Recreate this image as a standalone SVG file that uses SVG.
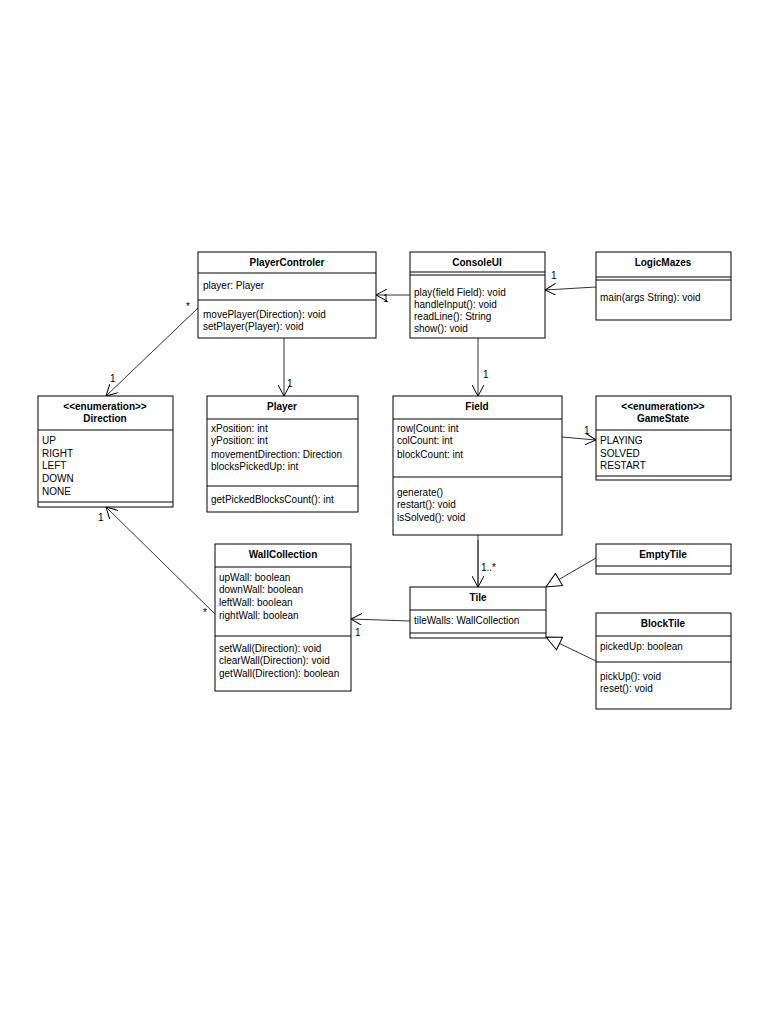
<svg xmlns="http://www.w3.org/2000/svg" width="768" height="1024" viewBox="0 0 768 1024">
<defs>
<style>
text{font-family:"Liberation Sans",Arial,sans-serif;font-size:10px;fill:#000}
.t{font-weight:bold;text-anchor:middle}
.b{fill:#fff;stroke:#000;stroke-width:1}
.l{stroke:#000;stroke-width:1;fill:none}
.c{stroke:#333;stroke-width:1;fill:none}
</style>
<marker id="o" markerWidth="12" markerHeight="12" refX="11" refY="6" orient="auto" markerUnits="userSpaceOnUse"><path d="M0,0 L11,6 L0,12" fill="none" stroke="#000"/></marker>
<marker id="g" markerWidth="18" markerHeight="18" refX="16" refY="8" orient="auto" markerUnits="userSpaceOnUse"><path d="M1,1 L16,8 L1,15 Z" fill="#fff" stroke="#000"/></marker>
<marker id="d" markerWidth="16" markerHeight="10" refX="1" refY="5" orient="auto" markerUnits="userSpaceOnUse"><path d="M1,5 L8,1 L15,5 L8,9 Z" fill="#000" stroke="#000"/></marker>
</defs>
<rect width="768" height="1024" fill="#fff"/>
<g id="connectors">
<line class="c" x1="410" y1="295" x2="376" y2="295" marker-end="url(#o)"/><text x="383" y="302">1</text>
<line class="c" x1="596" y1="287" x2="545" y2="290" marker-end="url(#o)"/><text x="551" y="279">1</text>
<line class="c" x1="198" y1="308" x2="106" y2="396" marker-end="url(#o)"/><text x="186" y="310" font-size="14">*</text><text x="110" y="382">1</text>
<line class="c" x1="284" y1="338" x2="284" y2="396" marker-end="url(#o)"/><text x="287" y="387">1</text>
<line class="c" x1="478" y1="338" x2="478" y2="396" marker-end="url(#o)"/><text x="483" y="378">1</text>
<line class="c" x1="562" y1="437" x2="596" y2="440" marker-end="url(#o)"/><text x="584" y="434">1</text>
<line class="c" x1="215" y1="614" x2="106" y2="507" marker-end="url(#o)"/><text x="203" y="616" font-size="14">*</text><text x="98" y="521">1</text>
<line class="c" x1="478" y1="587" x2="478" y2="535" marker-end="url(#d)"/>
<line class="c" x1="478" y1="540" x2="478" y2="587" marker-end="url(#o)"/><text x="481" y="571">1..*</text>
<line class="c" x1="410" y1="621" x2="351" y2="619" marker-end="url(#o)"/><text x="355" y="636">1</text>
<line class="c" x1="596" y1="558" x2="546" y2="587" marker-end="url(#g)"/>
<line class="c" x1="596" y1="661" x2="546" y2="637" marker-end="url(#g)"/>
</g>
<g id="PlayerControler"><rect class="b" x="198" y="252" width="178" height="86"/><line class="l" x1="198" y1="273" x2="376" y2="273"/><line class="l" x1="198" y1="300" x2="376" y2="300"/>
<text class="t" x="287" y="266">PlayerControler</text><text x="203" y="289">player: Player</text><text x="203" y="318">movePlayer(Direction): void</text><text x="203" y="330">setPlayer(Player): void</text></g>
<g id="ConsoleUI"><rect class="b" x="410" y="252" width="135" height="86"/><line class="l" x1="410" y1="272" x2="545" y2="272"/><line class="l" x1="410" y1="275" x2="545" y2="275"/>
<text class="t" x="477" y="266">ConsoleUI</text><text x="414" y="296">play(field Field): void</text><text x="414" y="308">handleInput(): void</text><text x="414" y="320">readLine(): String</text><text x="414" y="332">show(): void</text></g>
<g id="LogicMazes"><rect class="b" x="596" y="252" width="135" height="68"/><line class="l" x1="596" y1="277" x2="731" y2="277"/><line class="l" x1="596" y1="280" x2="731" y2="280"/>
<text class="t" x="663" y="266">LogicMazes</text><text x="600" y="301">main(args String): void</text></g>
<g id="Direction"><rect class="b" x="38" y="396" width="135" height="111"/><line class="l" x1="38" y1="430" x2="173" y2="430"/><line class="l" x1="38" y1="502" x2="173" y2="502"/>
<text class="t" x="105" y="410" font-size="9">&lt;&lt;enumeration&gt;&gt;</text><text class="t" x="105" y="422">Direction</text>
<text x="42" y="444">UP</text><text x="42" y="457">RIGHT</text><text x="42" y="469">LEFT</text><text x="42" y="482">DOWN</text><text x="42" y="495">NONE</text></g>
<g id="Player"><rect class="b" x="207" y="396" width="151" height="116"/><line class="l" x1="207" y1="419" x2="358" y2="419"/><line class="l" x1="207" y1="486" x2="358" y2="486"/>
<text class="t" x="282" y="410">Player</text><text x="211" y="432">xPosition: int</text><text x="211" y="444">yPosition: int</text><text x="211" y="458">movementDirection: Direction</text><text x="211" y="470">blocksPickedUp: int</text><text x="211" y="503">getPickedBlocksCount(): int</text></g>
<g id="Field"><rect class="b" x="393" y="396" width="169" height="139"/><line class="l" x1="393" y1="419" x2="562" y2="419"/><line class="l" x1="393" y1="477" x2="562" y2="477"/>
<text class="t" x="477" y="410">Field</text><text x="397" y="432">row|Count: int</text><text x="397" y="444">colCount: int</text><text x="397" y="458">blockCount: int</text><text x="397" y="496">generate()</text><text x="397" y="508">restart(): void</text><text x="397" y="521">isSolved(): void</text></g>
<g id="GameState"><rect class="b" x="596" y="396" width="135" height="84"/><line class="l" x1="596" y1="430" x2="731" y2="430"/><line class="l" x1="596" y1="476" x2="731" y2="476"/>
<text class="t" x="663" y="410" font-size="9">&lt;&lt;enumeration&gt;&gt;</text><text class="t" x="663" y="422">GameState</text>
<text x="600" y="444">PLAYING</text><text x="600" y="457">SOLVED</text><text x="600" y="469">RESTART</text></g>
<g id="WallCollection"><rect class="b" x="215" y="544" width="136" height="147"/><line class="l" x1="215" y1="567" x2="351" y2="567"/><line class="l" x1="215" y1="636" x2="351" y2="636"/>
<text class="t" x="283" y="558">WallCollection</text><text x="219" y="581">upWall: boolean</text><text x="219" y="593">downWall: boolean</text><text x="219" y="606">leftWall: boolean</text><text x="219" y="619">rightWall: boolean</text>
<text x="219" y="652">setWall(Direction): void</text><text x="219" y="664">clearWall(Direction): void</text><text x="219" y="677">getWall(Direction): boolean</text></g>
<g id="Tile"><rect class="b" x="410" y="587" width="136" height="51"/><line class="l" x1="410" y1="610" x2="546" y2="610"/><line class="l" x1="410" y1="633" x2="546" y2="633"/>
<text class="t" x="478" y="601">Tile</text><text x="414" y="624">tileWalls: WallCollection</text></g>
<g id="EmptyTile"><rect class="b" x="596" y="544" width="135" height="30"/><line class="l" x1="596" y1="566" x2="731" y2="566"/>
<text class="t" x="663" y="558">EmptyTile</text></g>
<g id="BlockTile"><rect class="b" x="596" y="613" width="135" height="96"/><line class="l" x1="596" y1="636" x2="731" y2="636"/><line class="l" x1="596" y1="662" x2="731" y2="662"/>
<text class="t" x="663" y="627">BlockTile</text><text x="600" y="650">pickedUp: boolean</text><text x="600" y="680">pickUp(): void</text><text x="600" y="692">reset(): void</text></g>
</svg>
